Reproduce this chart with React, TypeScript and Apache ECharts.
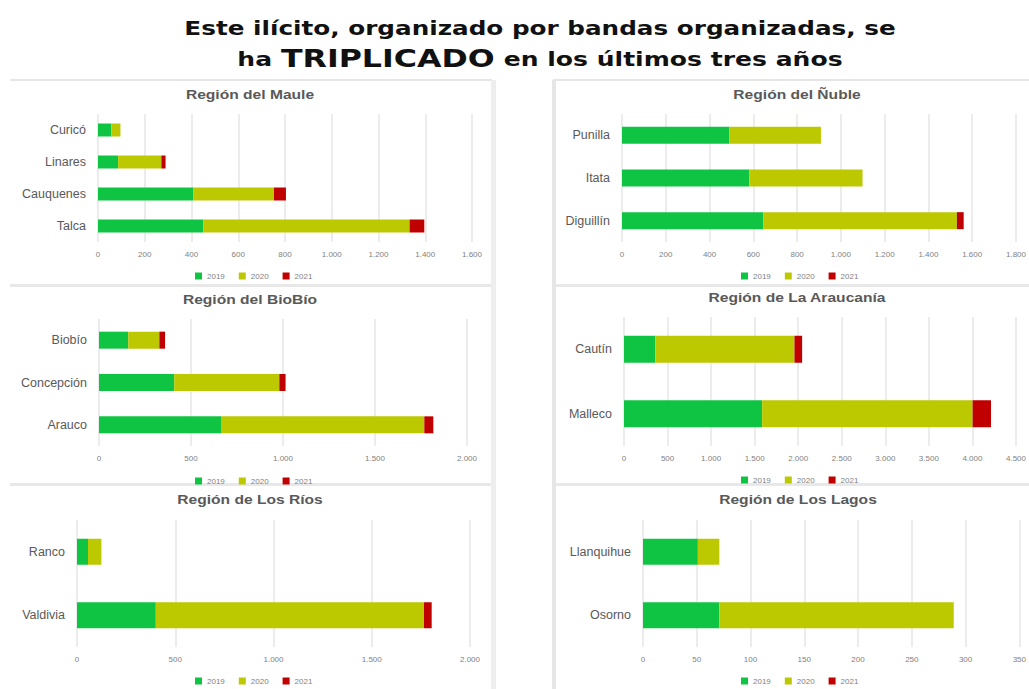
import React, { useEffect, useRef } from "react";
import * as echarts from "echarts";

const years = ["2019", "2020", "2021"];
const colors = ["#10c443", "#bdc900", "#c00000"];

const mainTitle1 = "Este ilícito, organizado por bandas organizadas, se";
const mainTitle2a = "ha ";
const mainTitle2b = "TRIPLICADO";
const mainTitle2c = " en los últimos tres años";

const mauleNames = ["Talca", "Cauquenes", "Linares", "Curicó"];
const maule2019 = [450, 407, 86, 57];
const maule2020 = [883, 346, 185, 39];
const maule2021 = [63, 51, 18, 0];

const nubleNames = ["Diguillín", "Itata", "Punilla"];
const nuble2019 = [646, 582, 491];
const nuble2020 = [884, 517, 418];
const nuble2021 = [31, 0, 0];

const biobioNames = ["Arauco", "Concepción", "Biobío"];
const biobio2019 = [663, 409, 159];
const biobio2020 = [1105, 571, 169];
const biobio2021 = [49, 34, 31];

const araucaniaNames = ["Malleco", "Cautín"];
const araucania2019 = [1586, 359];
const araucania2020 = [2416, 1598];
const araucania2021 = [211, 88];

const riosNames = ["Valdivia", "Ranco"];
const rios2019 = [401, 56];
const rios2020 = [1365, 68];
const rios2021 = [39, 0];

const lagosNames = ["Osorno", "Llanquihue"];
const lagos2019 = [71, 51];
const lagos2020 = [218, 20];
const lagos2021 = [0, 0];

const panels = [
  { title: "Región del Maule", names: mauleNames, data: [maule2019, maule2020, maule2021], max: 1600, interval: 200,
    left: 98, right: 472, top: 114, bottom: 242, titleX: 250, titleY: 95, barWidth: 13, legendX: 190, legendY: 267 },
  { title: "Región del Ñuble", names: nubleNames, data: [nuble2019, nuble2020, nuble2021], max: 1800, interval: 200,
    left: 622, right: 1017, top: 114, bottom: 242, titleX: 797, titleY: 95, barWidth: 17, legendX: 736, legendY: 267 },
  { title: "Región del BioBío", names: biobioNames, data: [biobio2019, biobio2020, biobio2021], max: 2000, interval: 500,
    left: 99, right: 467, top: 319, bottom: 446, titleX: 250, titleY: 300, barWidth: 17, legendX: 190, legendY: 472 },
  { title: "Región de La Araucanía", names: araucaniaNames, data: [araucania2019, araucania2020, araucania2021], max: 4500, interval: 500,
    left: 624, right: 1017, top: 317, bottom: 446, titleX: 797, titleY: 298, barWidth: 27, legendX: 736, legendY: 471 },
  { title: "Región de Los Ríos", names: riosNames, data: [rios2019, rios2020, rios2021], max: 2000, interval: 500,
    left: 77, right: 470, top: 520, bottom: 647, titleX: 250, titleY: 500, barWidth: 26, legendX: 190, legendY: 672 },
  { title: "Región de Los Lagos", names: lagosNames, data: [lagos2019, lagos2020, lagos2021], max: 350, interval: 50,
    left: 643, right: 1020, top: 520, bottom: 647, titleX: 798, titleY: 500, barWidth: 26, legendX: 736, legendY: 672 },
];

const fmt = (v: number) => String(v).replace(/\B(?=(\d{3})+(?!\d))/g, ".");

export default function App() {
  const ref = useRef<HTMLDivElement>(null);
  useEffect(() => {
    if (!ref.current) return;
    const chart = echarts.init(ref.current, null, { renderer: "svg" });
    const W = 1029;
    const grids: any[] = [];
    const xAxes: any[] = [];
    const yAxes: any[] = [];
    const legends: any[] = [];
    const series: any[] = [];
    const texts: any[] = [];
    texts.push({
      type: "text",
      x: 540,
      y: 29,
      scaleX: 1.3,
      style: {
        text: mainTitle1,
        fill: "#111",
        fontFamily: "DejaVu Sans",
        fontWeight: "bold",
        fontSize: 19,
        align: "center",
        verticalAlign: "middle",
      },
    });
    texts.push({
      type: "text",
      x: 540,
      y: 59,
      scaleX: 1.32,
      style: {
        text: "{a|" + mainTitle2a + "}{b|" + mainTitle2b + "}{a|" + mainTitle2c + "}",
        align: "center",
        verticalAlign: "middle",
        rich: {
          a: { fill: "#111", fontFamily: "DejaVu Sans", fontWeight: "bold", fontSize: 19 },
          b: { fill: "#111", fontFamily: "DejaVu Sans", fontWeight: "bold", fontSize: 24 },
        },
      },
    });
    panels.forEach((p, i) => {
      texts.push({
        type: "text",
        x: p.titleX,
        y: p.titleY,
        scaleX: 1.3,
        style: {
          text: p.title,
          fill: "#595959",
          fontFamily: "Liberation Sans",
          fontWeight: "bold",
          fontSize: 12,
          align: "center",
          verticalAlign: "middle",
        },
      });
      grids.push({ left: p.left, width: p.right - p.left, top: p.top, height: p.bottom - p.top, containLabel: false });
      xAxes.push({
        type: "value",
        gridIndex: i,
        min: 0,
        max: p.max,
        interval: p.interval,
        axisLine: { show: false },
        axisTick: { show: false },
        splitLine: { show: true, lineStyle: { color: "#ececec", width: 2 } },
        axisLabel: { fontSize: 8, color: "#7f7f7f", margin: 8, formatter: fmt, fontFamily: "Liberation Sans" },
      });
      yAxes.push({
        type: "category",
        gridIndex: i,
        data: p.names,
        axisLine: { show: false },
        axisTick: { show: false },
        axisLabel: { fontSize: 12.5, color: "#595959", margin: 12, fontFamily: "Liberation Sans" },
      });
      legends.push({
        data: years,
        left: p.legendX,
        top: p.legendY,
        orient: "horizontal",
        icon: "rect",
        itemWidth: 7,
        itemHeight: 7,
        itemGap: 14,
        textStyle: { fontSize: 8, color: "#7f7f7f", fontFamily: "Liberation Sans" },
      });
      years.forEach((y, k) => {
        series.push({
          type: "bar",
          name: y,
          xAxisIndex: i,
          yAxisIndex: i,
          stack: "s" + i,
          barWidth: p.barWidth,
          itemStyle: { color: colors[k] },
          data: p.data[k],
        });
      });
    });
    const line = (x: number, y: number, w: number, h: number, c: string) => ({
      type: "rect",
      shape: { x, y, width: w, height: h },
      style: { fill: c },
      silent: true,
      z: -1,
    });
    chart.setOption({
      animation: false,
      backgroundColor: "#ffffff",
      color: colors,
      grid: grids,
      xAxis: xAxes,
      yAxis: yAxes,
      legend: legends,
      series,
      graphic: [
        line(10, 79, 482, 2, "#e6e6e6"),
        line(553, 79, W - 553, 2, "#e6e6e6"),
        line(10, 284, 482, 3, "#e8e8e8"),
        line(553, 284, W - 553, 3, "#e8e8e8"),
        line(10, 483, 482, 3, "#e8e8e8"),
        line(553, 483, W - 553, 3, "#e8e8e8"),
        line(491, 80, 5, 609, "#eeeeee"),
        line(552, 80, 4, 609, "#e6e6e6"),
        ...texts,
      ],
    });
    return () => chart.dispose();
  }, []);
  return <div ref={ref} style={{ position: "fixed", left: 0, top: 0, width: 1029, height: 689 }} />;
}
